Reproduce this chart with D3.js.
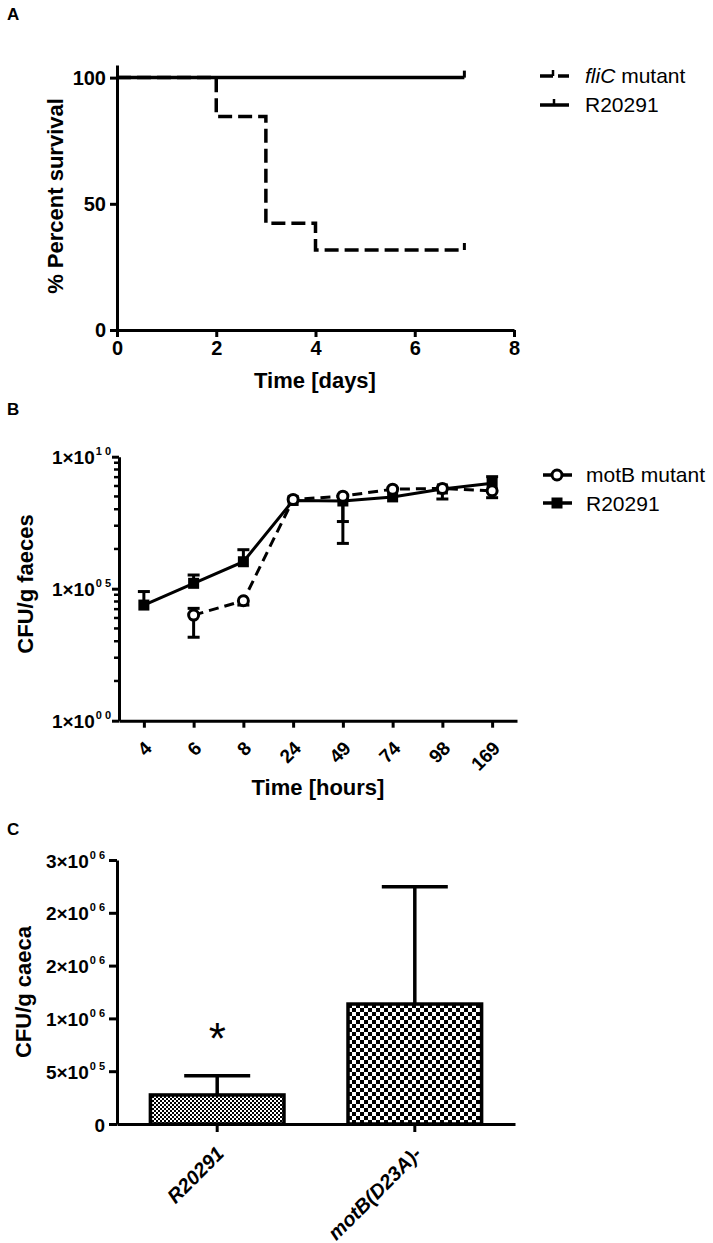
<!DOCTYPE html>
<html><head><meta charset="utf-8">
<script src="https://cdn.jsdelivr.net/npm/d3@7"></script>
<style>
body{margin:0;background:#fff}
svg{display:block}
text{font-family:Arial,"Liberation Sans",sans-serif;fill:#000}
</style>
</head><body>
<svg id="chart" width="713" height="1243"></svg>
<script>
// ---------- Panel A data ----------
const survDays = [0, 2, 3, 4, 7];
const survFliC = [100, 84.6, 42.3, 31.7, 31.7];
const survR20291 = [100, 100, 100, 100, 100];
const survXTicks = [0, 2, 4, 6, 8];
const survYTicks = [0, 50, 100];
const survLegend = ["fliC", "R20291"];

// ---------- Panel B data ----------
const hours = ["4", "6", "8", "24", "49", "74", "98", "169"];
const cfuR20291   = [2.4e4, 1.6e5, 1.05e6, 2.2e8, 2.1e8, 3.0e8, 6.0e8, 9.8e8];
const cfuR20291Hi = [7.8e4, 3.3e5, 3.0e6, null, null, null, null, 1.75e9];
const cfuR20291Lo = [null, null, null, null, 3.5e7, null, null, null];
const cfuMotB     = [null, 1.0e4, 3.5e4, 2.4e8, 3.2e8, 5.9e8, 6.3e8, 5.1e8];
const cfuMotBHi   = [null, 1.8e4, null, null, null, null, null, null];
const cfuMotBLo   = [null, 1.45e3, 2.4e4, null, 5.2e6, null, 2.5e8, 2.8e8];
const cfuMajorTicks = [1, 1e5, 1e10];
const cfuMajorExp = ["0 0", "0 5", "1 0"];
const cfuLegend = ["motB mutant", "R20291"];

// ---------- Panel C data ----------
const strains = ["R20291", "motB(D23A)-"];
const caecaMean = [2.75e5, 1.136e6];
const caecaErrTop = [4.57e5, 2.247e6];
const caecaTicks = [0, 5e5, 1e6, 1.5e6, 2e6, 2.5e6];
const caecaTickMant = ["0", "5", "1", "2", "2", "3"];
const caecaTickExp = ["", "0 5", "0 6", "0 6", "0 6", "0 6"];

const svg = d3.select("#chart");
const AX = 3; // axis stroke

// patterns
const defs = svg.append("defs");
const p1 = defs.append("pattern").attr("id","fine").attr("width",4).attr("height",4).attr("patternUnits","userSpaceOnUse");
p1.append("rect").attr("width",4).attr("height",4).attr("fill","#fff");
p1.append("rect").attr("width",2).attr("height",2).attr("fill","#000");
p1.append("rect").attr("x",2).attr("y",2).attr("width",2).attr("height",2).attr("fill","#000");
const p2 = defs.append("pattern").attr("id","coarse").attr("width",8).attr("height",8).attr("patternUnits","userSpaceOnUse");
p2.append("rect").attr("width",8).attr("height",8).attr("fill","#fff");
p2.append("rect").attr("width",4).attr("height",4).attr("fill","#000");
p2.append("rect").attr("x",4).attr("y",4).attr("width",4).attr("height",4).attr("fill","#000");

function styleAxis(g, fs){
  g.selectAll(".domain").attr("stroke","#000").attr("stroke-width",AX);
  g.selectAll(".tick line").attr("stroke","#000").attr("stroke-width",AX);
  g.selectAll(".tick text").attr("font-size",fs).attr("font-weight","bold").attr("fill","#000")
    .attr("font-family","Arial, 'Liberation Sans', sans-serif");
}

// Panel labels
[["A",20],["B",415],["C",835]].forEach(([t,y])=>{
  svg.append("text").attr("x",7).attr("y",y).attr("font-size",17).attr("font-weight","bold").text(t);
});

// =============== Panel A ===============
{
  const x = d3.scaleLinear().domain([0,8]).range([117,514]);
  const y = d3.scaleLinear().domain([0,105]).range([330,65]);
  const gx = svg.append("g").attr("transform","translate(0,330)")
    .call(d3.axisBottom(x).tickValues(survXTicks).tickSize(7).tickPadding(4).tickSizeOuter(0));
  styleAxis(gx, 20);
  const gy = svg.append("g").attr("transform","translate(117,0)")
    .call(d3.axisLeft(y).tickValues(survYTicks).tickSize(7).tickPadding(4).tickSizeOuter(0));
  styleAxis(gy, 20);

  const line = d3.line().x((d,i)=>x(survDays[i])).y(d=>y(d)).curve(d3.curveStepAfter);
  svg.append("path").datum(survR20291).attr("d",line).attr("fill","none").attr("stroke","#000").attr("stroke-width",3.5);
  svg.append("path").datum(survFliC).attr("d",line).attr("fill","none").attr("stroke","#000").attr("stroke-width",3.5)
    .attr("stroke-dasharray","14,6");
  // censor ticks
  const last = survDays.length-1;
  [survR20291[last], survFliC[last]].forEach(v=>{
    svg.append("line").attr("x1",x(survDays[last])).attr("x2",x(survDays[last]))
      .attr("y1",y(v)).attr("y2",y(v)-7).attr("stroke","#000").attr("stroke-width",3);
  });

  svg.append("text").attr("x",315).attr("y",388).attr("text-anchor","middle")
    .attr("font-size",22).attr("font-weight","bold").text("Time [days]");
  svg.append("text").attr("transform","translate(63,196) rotate(-90)").attr("text-anchor","middle")
    .attr("font-size",22).attr("font-weight","bold").text("% Percent survival");

  // legend
  const ly = [76, 105];
  svg.append("line").attr("x1",540).attr("x2",553).attr("y1",ly[0]).attr("y2",ly[0]).attr("stroke","#000").attr("stroke-width",3.5);
  svg.append("line").attr("x1",558).attr("x2",569).attr("y1",ly[0]).attr("y2",ly[0]).attr("stroke","#000").attr("stroke-width",3.5);
  svg.append("line").attr("x1",553).attr("x2",553).attr("y1",ly[0]).attr("y2",ly[0]-6).attr("stroke","#000").attr("stroke-width",2.5);
  svg.append("line").attr("x1",540).attr("x2",569).attr("y1",ly[1]).attr("y2",ly[1]).attr("stroke","#000").attr("stroke-width",3.5);
  svg.append("line").attr("x1",554).attr("x2",554).attr("y1",ly[1]).attr("y2",ly[1]-6).attr("stroke","#000").attr("stroke-width",2.5);
  const t1 = svg.append("text").attr("x",585).attr("y",83).attr("font-size",21);
  t1.append("tspan").attr("font-style","italic").text(survLegend[0]);
  t1.append("tspan").text(" mutant");
  svg.append("text").attr("x",585).attr("y",112).attr("font-size",21).text(survLegend[1]);
}

// =============== Panel B ===============
{
  const x = d3.scalePoint().domain(hours).range([119,517]).padding(0.5);
  const y = d3.scaleLog().domain([1,1e10]).range([720.7,456.7]);
  const gx = svg.append("g").attr("transform","translate(0,720.7)")
    .call(d3.axisBottom(x).tickSize(7).tickSizeOuter(0).tickFormat(()=>""));
  styleAxis(gx, 19);
  gx.selectAll(".tick").each(function(d){
    d3.select(this).append("text")
      .attr("transform","translate(4,24) rotate(-45)")
      .attr("text-anchor","end").attr("dy","0.35em")
      .attr("font-size",19).attr("font-weight","bold").attr("fill","#000").text(d);
  });
  const gy = svg.append("g").attr("transform","translate(119,0)")
    .call(d3.axisLeft(y).tickValues(cfuMajorTicks).tickSize(7).tickSizeOuter(0).tickFormat(()=>""));
  styleAxis(gy, 19);
  gy.selectAll(".tick").each(function(d,i){
    const t = d3.select(this).append("text").attr("x",-8).attr("y",7)
      .attr("text-anchor","end").attr("font-size",19).attr("font-weight","bold").attr("fill","#000");
    t.append("tspan").text("1\u00d710");
    t.append("tspan").attr("font-size",11).attr("dy",-9).attr("dx",1).text(cfuMajorExp[i]);
  });
  // minor ticks (k = 2..9 of each 5-decade interval)
  const minor = [];
  [1,1e5].forEach(base=>{ for(let k=2;k<=9;k++) minor.push(base*Math.pow(10,5*Math.log10(k))); });
  svg.append("g").selectAll("line").data(minor).join("line")
    .attr("x1",119).attr("x2",114).attr("y1",d=>y(d)).attr("y2",d=>y(d))
    .attr("stroke","#000").attr("stroke-width",2.5);

  const mk = (vals)=> hours.map((h,i)=>({h, v: vals[i]})).filter(d=>d.v!=null);
  const line = d3.line().x(d=>x(d.h)).y(d=>y(d.v));

  function errBars(means, arr){
    arr.forEach((v,i)=>{
      if(v==null) return;
      const cx = x(hours[i]);
      svg.append("line").attr("x1",cx).attr("x2",cx).attr("y1",y(means[i])).attr("y2",y(v))
        .attr("stroke","#000").attr("stroke-width",3);
      svg.append("line").attr("x1",cx-6).attr("x2",cx+6).attr("y1",y(v)).attr("y2",y(v))
        .attr("stroke","#000").attr("stroke-width",3);
    });
  }
  errBars(cfuR20291, cfuR20291Hi);
  errBars(cfuR20291, cfuR20291Lo);
  errBars(cfuMotB, cfuMotBHi);
  errBars(cfuMotB, cfuMotBLo);

  svg.append("path").datum(mk(cfuR20291)).attr("d",line).attr("fill","none").attr("stroke","#000").attr("stroke-width",3);
  svg.append("path").datum(mk(cfuMotB)).attr("d",line).attr("fill","none").attr("stroke","#000").attr("stroke-width",3)
    .attr("stroke-dasharray","10,6");

  svg.append("g").selectAll("rect").data(mk(cfuR20291)).join("rect")
    .attr("x",d=>x(d.h)-5.5).attr("y",d=>y(d.v)-5.5).attr("width",11).attr("height",11).attr("fill","#000");
  svg.append("g").selectAll("circle").data(mk(cfuMotB)).join("circle")
    .attr("cx",d=>x(d.h)).attr("cy",d=>y(d.v)).attr("r",5).attr("fill","#fff").attr("stroke","#000").attr("stroke-width",3);

  svg.append("text").attr("x",318).attr("y",795).attr("text-anchor","middle")
    .attr("font-size",22).attr("font-weight","bold").text("Time [hours]");
  svg.append("text").attr("transform","translate(33,584) rotate(-90)").attr("text-anchor","middle")
    .attr("font-size",22).attr("font-weight","bold").text("CFU/g faeces");

  // legend
  const ly = [475, 503];
  svg.append("line").attr("x1",543).attr("x2",572).attr("y1",ly[0]).attr("y2",ly[0]).attr("stroke","#000").attr("stroke-width",3.5);
  svg.append("circle").attr("cx",557).attr("cy",ly[0]).attr("r",5).attr("fill","#fff").attr("stroke","#000").attr("stroke-width",3);
  svg.append("line").attr("x1",543).attr("x2",572).attr("y1",ly[1]).attr("y2",ly[1]).attr("stroke","#000").attr("stroke-width",3.5);
  svg.append("rect").attr("x",551.5).attr("y",ly[1]-5.5).attr("width",11).attr("height",11).attr("fill","#000");
  svg.append("text").attr("x",586).attr("y",482).attr("font-size",21).text(cfuLegend[0]);
  svg.append("text").attr("x",586).attr("y",511).attr("font-size",21).text(cfuLegend[1]);
}

// =============== Panel C ===============
{
  const x = d3.scaleBand().domain(strains).range([117,515]).paddingInner(0.324).paddingOuter(0.169);
  const y = d3.scaleLinear().domain([0,2.5e6]).range([1124,860]);
  const fills = ["url(#fine)","url(#coarse)"];

  strains.forEach((s,i)=>{
    const cx = x(s)+x.bandwidth()/2;
    svg.append("line").attr("x1",cx).attr("x2",cx).attr("y1",y(caecaMean[i])).attr("y2",y(caecaErrTop[i]))
      .attr("stroke","#000").attr("stroke-width",3.5);
    svg.append("line").attr("x1",cx-33).attr("x2",cx+33).attr("y1",y(caecaErrTop[i])).attr("y2",y(caecaErrTop[i]))
      .attr("stroke","#000").attr("stroke-width",3.5);
  });
  svg.append("g").selectAll("rect").data(strains).join("rect")
    .attr("x",d=>x(d)).attr("y",(d,i)=>y(caecaMean[i])).attr("width",x.bandwidth())
    .attr("height",(d,i)=>y(0)-y(caecaMean[i])).attr("fill",(d,i)=>fills[i])
    .attr("stroke","#000").attr("stroke-width",3.5);

  const gx = svg.append("g").attr("transform","translate(0,1124)")
    .call(d3.axisBottom(x).tickSize(8).tickSizeOuter(0).tickFormat(()=>""));
  styleAxis(gx, 20);
  gx.selectAll(".tick").each(function(d){
    d3.select(this).append("text")
      .attr("transform","translate(3,26) rotate(-45)")
      .attr("text-anchor","end").attr("dy","0.35em")
      .attr("font-size",20).attr("font-weight","bold").attr("font-style","italic").attr("fill","#000").text(d);
  });
  const gy = svg.append("g").attr("transform","translate(117,0)")
    .call(d3.axisLeft(y).tickValues(caecaTicks).tickSize(8).tickSizeOuter(0).tickFormat(()=>""));
  styleAxis(gy, 19);
  gy.selectAll(".tick").each(function(d,i){
    const t = d3.select(this).append("text").attr("x",-12).attr("y",7)
      .attr("text-anchor","end").attr("font-size",19).attr("font-weight","bold").attr("fill","#000");
    if(caecaTickExp[i]===""){ t.text(caecaTickMant[i]); }
    else {
      t.append("tspan").text(caecaTickMant[i]+"\u00d710");
      t.append("tspan").attr("font-size",11).attr("dy",-9).attr("dx",1).text(caecaTickExp[i]);
    }
  });

  // significance asterisk
  const cx0 = x(strains[0])+x.bandwidth()/2;
  svg.append("text").attr("x",cx0).attr("y",y(caecaErrTop[0])-22).attr("text-anchor","middle")
    .attr("font-size",44).text("*");

  svg.append("text").attr("transform","translate(31,992) rotate(-90)").attr("text-anchor","middle")
    .attr("font-size",22).attr("font-weight","bold").text("CFU/g caeca");
}
</script>
</body></html>
